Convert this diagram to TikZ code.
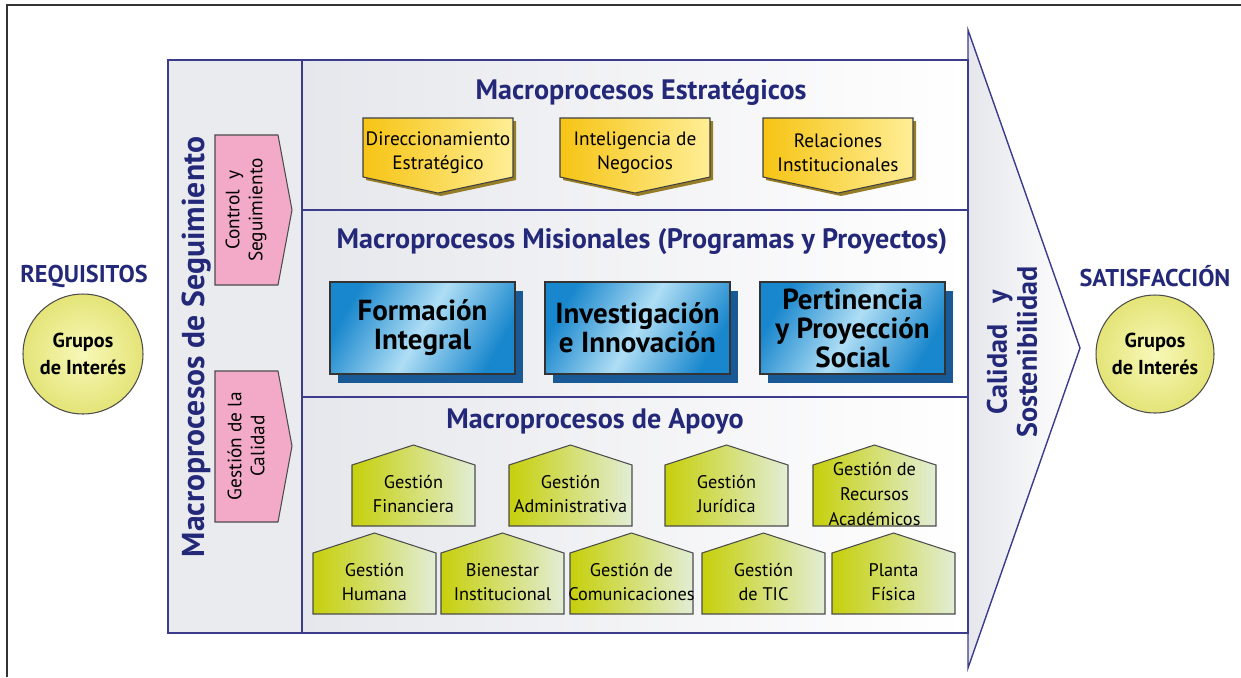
\documentclass[tikz,border=0pt]{standalone}
\usepackage{fontspec}
\setmainfont{PT Sans}
\usetikzlibrary{calc}

\definecolor{navy}{RGB}{35,40,120}
\definecolor{frameline}{RGB}{60,60,140}
\definecolor{panelgray}{RGB}{230,231,236}
\definecolor{stratA}{RGB}{246,196,20}
\definecolor{stratB}{RGB}{255,238,150}
\definecolor{stratshade}{RGB}{150,125,40}
\definecolor{misA}{RGB}{25,135,205}
\definecolor{misB}{RGB}{175,222,245}
\definecolor{misshade}{RGB}{25,90,150}
\definecolor{apoyoA}{RGB}{198,208,10}
\definecolor{apoyoB}{RGB}{226,237,214}
\definecolor{pinkbox}{RGB}{242,170,200}
\definecolor{grupoA}{RGB}{248,248,185}
\definecolor{grupoB}{RGB}{228,228,120}

\tikzset{
  macrotitle/.style={font=\bfseries\fontsize{16}{18}\selectfont, text=navy},
  sidetitle/.style={font=\bfseries\fontsize{18}{18}\selectfont, text=navy, rotate=90, align=center},
  endtitle/.style={font=\bfseries\fontsize{13.8}{16}\selectfont, text=navy},
  grupo/.style={circle, draw=black!70, line width=0.6pt, inner color=grupoA, outer color=grupoB,
    minimum size=2.4cm, align=center, font=\bfseries\fontsize{11.5}{15}\selectfont},
  estrbox/.style={draw=black!75, line width=0.6pt, left color=stratA, right color=stratB},
  estrtext/.style={align=center, font=\fontsize{11}{13.5}\selectfont},
  misbox/.style={draw=black!80, line width=0.6pt, left color=misA, right color=misA, middle color=misB, shading angle=60},
  mistext/.style={align=center, font=\bfseries\fontsize{16.5}{16.5}\selectfont},
  apoyobox/.style={draw=black!70, line width=0.6pt, left color=apoyoA, right color=apoyoB},
  apoyotext/.style={align=center, font=\fontsize{10.4}{14}\selectfont},
  pinkarrow/.style={draw=black!70, line width=0.6pt, fill=pinkbox},
  pinktext/.style={align=center, rotate=90, font=\fontsize{11}{13}\selectfont},
  panelline/.style={draw=frameline, line width=0.8pt}
}

% yellow box pointing down: name, left x, text
\newcommand{\estrategico}[3]{%
  \fill[stratshade, shift={(3,3)}] (#2,118) -- ++(150,0) -- ++(0,59) -- ++(-75,16) -- ++(-75,-16) -- cycle;
  \draw[estrbox] (#2,118) -- ++(150,0) -- ++(0,59) -- ++(-75,16) -- ++(-75,-16) -- cycle;
  \node[estrtext] (#1) at ({#2+75},153) {#3};
}
% blue box with shadow: name, left x, text
\newcommand{\misional}[3]{%
  \fill[misshade] ({#2+8},291) rectangle ++(185,92);
  \draw[misbox] (#2,282) rectangle ++(185,92);
  \node[mistext] (#1) at ({#2+92.5},328) {#3};
}
% house: name, left x, top y, text
\newcommand{\apoyo}[4]{%
  \draw[apoyobox] (#2,{#3+20}) -- ({#2+61.5},#3) -- ({#2+123},{#3+20}) -- ({#2+123},{#3+81}) -- (#2,{#3+81}) -- cycle;
  \node[apoyotext] (#1) at ({#2+61.5},{#3+49}) {#4};
}

\begin{document}
\begin{tikzpicture}[x=0.02cm, y=-0.02cm]
    \useasboundingbox (0,0) rectangle (1241,677);
    \draw[black!80, line width=0.6pt] (7,677) -- (7,5) -- (1241,5);

    % panels
    \fill[panelgray!85] (168,60) rectangle (302,633);
    \shade[left color=panelgray, right color=white] (302,60) rectangle (968,633);
    \shade[left color=panelgray, right color=white] (968,30) -- (1080,348) -- (968,668) -- cycle;
    \draw[panelline] (968,30) -- (1080,348) -- (968,668) -- cycle;
    \draw[panelline] (168,60) rectangle (968,633);
    \draw[panelline] (302,60) -- (302,633);
    \draw[panelline] (302,210) -- (968,210);
    \draw[panelline] (302,397) -- (968,397);

    % requisitos / satisfaccion
    \node[endtitle] (req) at (84,276) {REQUISITOS};
    \node[grupo] (reqgrupos) at (83,354) {Grupos\\de Interés};
    \node[endtitle] (sat) at (1155,276) {SATISFACCIÓN};
    \node[grupo, minimum size=2.36cm] (satgrupos) at (1155,354) {Grupos\\de Interés};

    % seguimiento
    \node[sidetitle] (seguimiento) at (197,347) {Macroprocesos de Seguimiento};
    \draw[pinkarrow] (215,135) -- (278,135) -- (292,210) -- (278,285) -- (215,285) -- cycle;
    \node[pinktext] (control) at (246,210) {Control\ \ y\\Seguimiento};
    \draw[pinkarrow] (215,371) -- (278,371) -- (292,446) -- (278,522) -- (215,522) -- cycle;
    \node[pinktext] (calidadgest) at (246,446) {Gestión de la\\Calidad};

    \node[sidetitle, font=\bfseries\fontsize{16}{17}\selectfont] (calidad) at (1012,352) {Calidad\ \ \ y\\Sostenibilidad};

    % estrategicos
    \node[macrotitle] (estrategicos) at (641,92) {Macroprocesos Estratégicos};
    \estrategico{direcc}{363}{Direccionamiento\\Estratégico}
    \estrategico{intelig}{560}{Inteligencia de\\Negocios}
    \estrategico{relac}{763}{Relaciones\\Institucionales}

    % misionales
    \node[macrotitle] (misionales) at (642,242) {Macroprocesos Misionales (Programas y Proyectos)};
    \misional{formacion}{330}{Formación\\Integral}
    \misional{investig}{545}{Investigación\\e Innovación}
    \misional{pertin}{760}{Pertinencia\\y Proyección\\Social}

    % apoyo
    \node[macrotitle] (apoyo) at (595,421) {Macroprocesos de Apoyo};
    \apoyo{financiera}{352}{445}{Gestión\\Financiera}
    \apoyo{administ}{509}{445}{Gestión\\Administrativa}
    \apoyo{juridica}{665}{445}{Gestión\\Jurídica}
    \apoyo{recursos}{813}{445}{Gestión de\\Recursos\\Académicos}
    \apoyo{humana}{313}{533}{Gestión\\Humana}
    \apoyo{bienestar}{441}{533}{Bienestar\\Institucional}
    \apoyo{comunic}{570}{533}{Gestión de\\Comunicaciones}
    \apoyo{tic}{702}{533}{Gestión\\de TIC}
    \apoyo{planta}{832}{533}{Planta\\Física}
\end{tikzpicture}
\end{document}
